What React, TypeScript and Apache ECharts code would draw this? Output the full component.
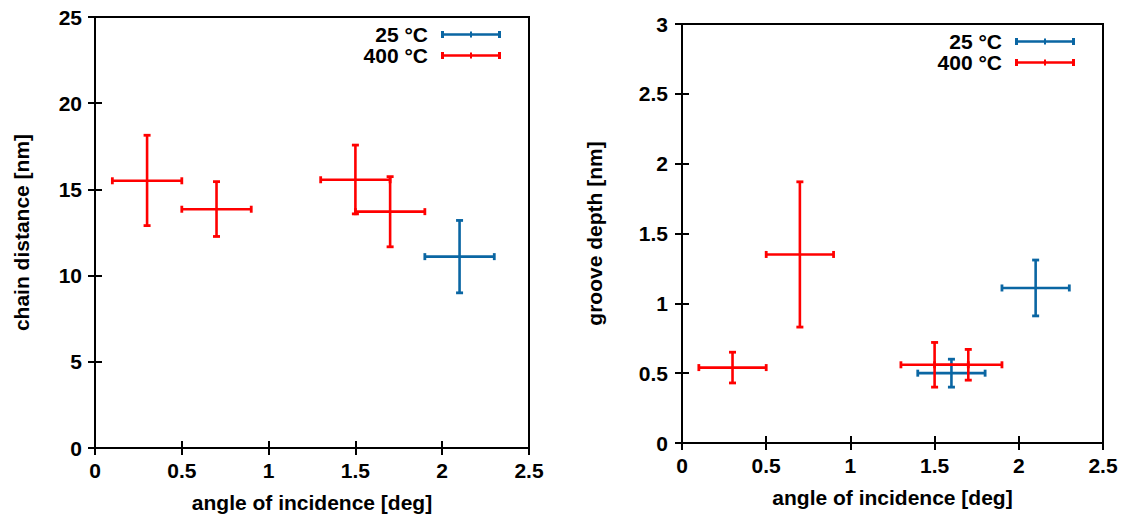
import React, { useEffect, useRef } from "react";
import * as echarts from "echarts";

// Chain distance vs. angle of incidence (left panel)
const chain25X = [2.1];
const chain25XLow = [1.9];
const chain25XHigh = [2.3];
const chain25Y = [11.1];
const chain25YLow = [9.0];
const chain25YHigh = [13.2];

const chain400X = [0.3, 0.7, 1.5, 1.7];
const chain400XLow = [0.1, 0.5, 1.3, 1.5];
const chain400XHigh = [0.5, 0.9, 1.7, 1.9];
const chain400Y = [15.5, 13.85, 15.56, 13.71];
const chain400YLow = [12.9, 12.27, 13.58, 11.67];
const chain400YHigh = [18.14, 15.45, 17.57, 15.74];

// Groove depth vs. angle of incidence (right panel)
const groove25X = [1.6, 2.1];
const groove25XLow = [1.4, 1.9];
const groove25XHigh = [1.8, 2.3];
const groove25Y = [0.5, 1.11];
const groove25YLow = [0.4, 0.91];
const groove25YHigh = [0.6, 1.31];

const groove400X = [0.3, 0.7, 1.5, 1.7];
const groove400XLow = [0.1, 0.5, 1.3, 1.5];
const groove400XHigh = [0.5, 0.9, 1.7, 1.9];
const groove400Y = [0.54, 1.35, 0.56, 0.56];
const groove400YLow = [0.43, 0.83, 0.4, 0.45];
const groove400YHigh = [0.65, 1.87, 0.72, 0.67];

const xTicks = { min: 0, max: 2.5, interval: 0.5 };
const chainTicks = { min: 0, max: 25, interval: 5 };
const grooveTicks = { min: 0, max: 3, interval: 0.5 };

const seriesNames = ["25 °C", "400 °C"];
const BLUE = "#0a66a3";
const RED = "#ff0000";
const FONT = "Liberation Sans, Arial, Helvetica, sans-serif";

function rows(
  x: number[], y: number[], xl: number[], xh: number[], yl: number[], yh: number[]
) {
  return x.map((v, i) => [v, y[i], xl[i], xh[i], yl[i], yh[i]]);
}

function errorBars(color: string) {
  return (params: any, api: any) => {
    const x = api.value(0);
    const y = api.value(1);
    const l = api.coord([api.value(2), y]);
    const r = api.coord([api.value(3), y]);
    const b = api.coord([x, api.value(4)]);
    const t = api.coord([x, api.value(5)]);
    const style = { stroke: color, lineWidth: 2.6, lineCap: "butt" };
    const capStyle = { stroke: color, lineWidth: 2.8 };
    const c = 3.5;
    return {
      type: "group",
      children: [
        { type: "line", shape: { x1: l[0], y1: l[1], x2: r[0], y2: r[1] }, style },
        { type: "line", shape: { x1: b[0], y1: b[1], x2: t[0], y2: t[1] }, style },
        { type: "line", shape: { x1: l[0], y1: l[1] - c, x2: l[0], y2: l[1] + c }, style: capStyle },
        { type: "line", shape: { x1: r[0], y1: r[1] - c, x2: r[0], y2: r[1] + c }, style: capStyle },
        { type: "line", shape: { x1: t[0] - c, y1: t[1], x2: t[0] + c, y2: t[1] }, style: capStyle },
        { type: "line", shape: { x1: b[0] - c, y1: b[1], x2: b[0] + c, y2: b[1] }, style: capStyle },
      ],
    };
  };
}

const labelStyle = { color: "#000", fontFamily: FONT, fontWeight: "bold" as const, fontSize: 21 };

function axisPair(
  kind: "x" | "y", gridIndex: number, ticks: { min: number; max: number; interval: number },
  name: string, nameGap: number, labelMargin: number
) {
  const main: any = {
    type: "value",
    gridIndex,
    position: kind === "x" ? "bottom" : "left",
    min: ticks.min,
    max: ticks.max,
    interval: ticks.interval,
    name,
    nameLocation: "middle",
    nameGap,
    nameTextStyle: labelStyle,
    axisLine: { show: false },
    axisTick: { show: true, inside: true, length: 7, lineStyle: { color: "#000", width: 2 } },
    axisLabel: { ...labelStyle, margin: labelMargin },
    splitLine: { show: false },
  };
  const mirror: any = {
    type: "value",
    gridIndex,
    position: kind === "x" ? "top" : "right",
    min: ticks.min,
    max: ticks.max,
    interval: ticks.interval,
    axisLine: { show: false },
    axisTick: { show: true, inside: true, length: 7, lineStyle: { color: "#000", width: 2 } },
    axisLabel: { show: false },
    splitLine: { show: false },
  };
  return [main, mirror];
}

const legendIcon =
  "path://M0,0h3v7h-3z M0,2.25h60v2.5h-60z M57,0h3v7h-3z M29,0.5h2v6h-2z";

function legendAt(right: number, top: number) {
  return {
    orient: "vertical",
    right,
    top,
    padding: 0,
    align: "right",
    itemGap: 0,
    itemWidth: 60,
    itemHeight: 7,
    icon: legendIcon,
    selectedMode: false,
    data: seriesNames,
    textStyle: { ...labelStyle, lineHeight: 21, padding: [0, 8, 0, 0] },
  };
}

export default function App() {
  const ref = useRef<HTMLDivElement>(null);

  useEffect(() => {
    if (!ref.current) return;
    const chart = echarts.init(ref.current, undefined, { renderer: "svg" });
    const [x0, x0m] = axisPair("x", 0, xTicks, "angle of incidence [deg]", 44, 12);
    const [x1, x1m] = axisPair("x", 1, xTicks, "angle of incidence [deg]", 44, 12);
    const [y0, y0m] = axisPair("y", 0, chainTicks, "chain distance [nm]", 63, 13);
    const [y1, y1m] = axisPair("y", 1, grooveTicks, "groove depth [nm]", 77, 14);

    chart.setOption({
      animation: false,
      backgroundColor: "#fff",
      grid: [
        { left: 95, top: 17, width: 434, height: 433, show: true, borderColor: "#000", borderWidth: 2, backgroundColor: "transparent" },
        { left: 682, top: 24, width: 421, height: 419, show: true, borderColor: "#000", borderWidth: 2, backgroundColor: "transparent" },
      ],
      xAxis: [x0, x0m, x1, x1m],
      yAxis: [y0, y0m, y1, y1m],
      legend: [legendAt(621, 24), legendAt(47, 31)],
      series: [
        {
          type: "custom",
          name: seriesNames[0],
          xAxisIndex: 0,
          yAxisIndex: 0,
          itemStyle: { color: BLUE },
          encode: { x: [0, 2, 3], y: [1, 4, 5] },
          renderItem: errorBars(BLUE),
          data: rows(chain25X, chain25Y, chain25XLow, chain25XHigh, chain25YLow, chain25YHigh),
        },
        {
          type: "custom",
          name: seriesNames[1],
          xAxisIndex: 0,
          yAxisIndex: 0,
          itemStyle: { color: RED },
          encode: { x: [0, 2, 3], y: [1, 4, 5] },
          renderItem: errorBars(RED),
          data: rows(chain400X, chain400Y, chain400XLow, chain400XHigh, chain400YLow, chain400YHigh),
        },
        {
          type: "custom",
          name: seriesNames[0],
          xAxisIndex: 2,
          yAxisIndex: 2,
          itemStyle: { color: BLUE },
          encode: { x: [0, 2, 3], y: [1, 4, 5] },
          renderItem: errorBars(BLUE),
          data: rows(groove25X, groove25Y, groove25XLow, groove25XHigh, groove25YLow, groove25YHigh),
        },
        {
          type: "custom",
          name: seriesNames[1],
          xAxisIndex: 2,
          yAxisIndex: 2,
          itemStyle: { color: RED },
          encode: { x: [0, 2, 3], y: [1, 4, 5] },
          renderItem: errorBars(RED),
          data: rows(groove400X, groove400Y, groove400XLow, groove400XHigh, groove400YLow, groove400YHigh),
        },
      ],
    });
    return () => chart.dispose();
  }, []);

  return (
    <div
      ref={ref}
      style={{ position: "fixed", left: 0, top: 0, width: 1122, height: 518, background: "#fff" }}
    />
  );
}
